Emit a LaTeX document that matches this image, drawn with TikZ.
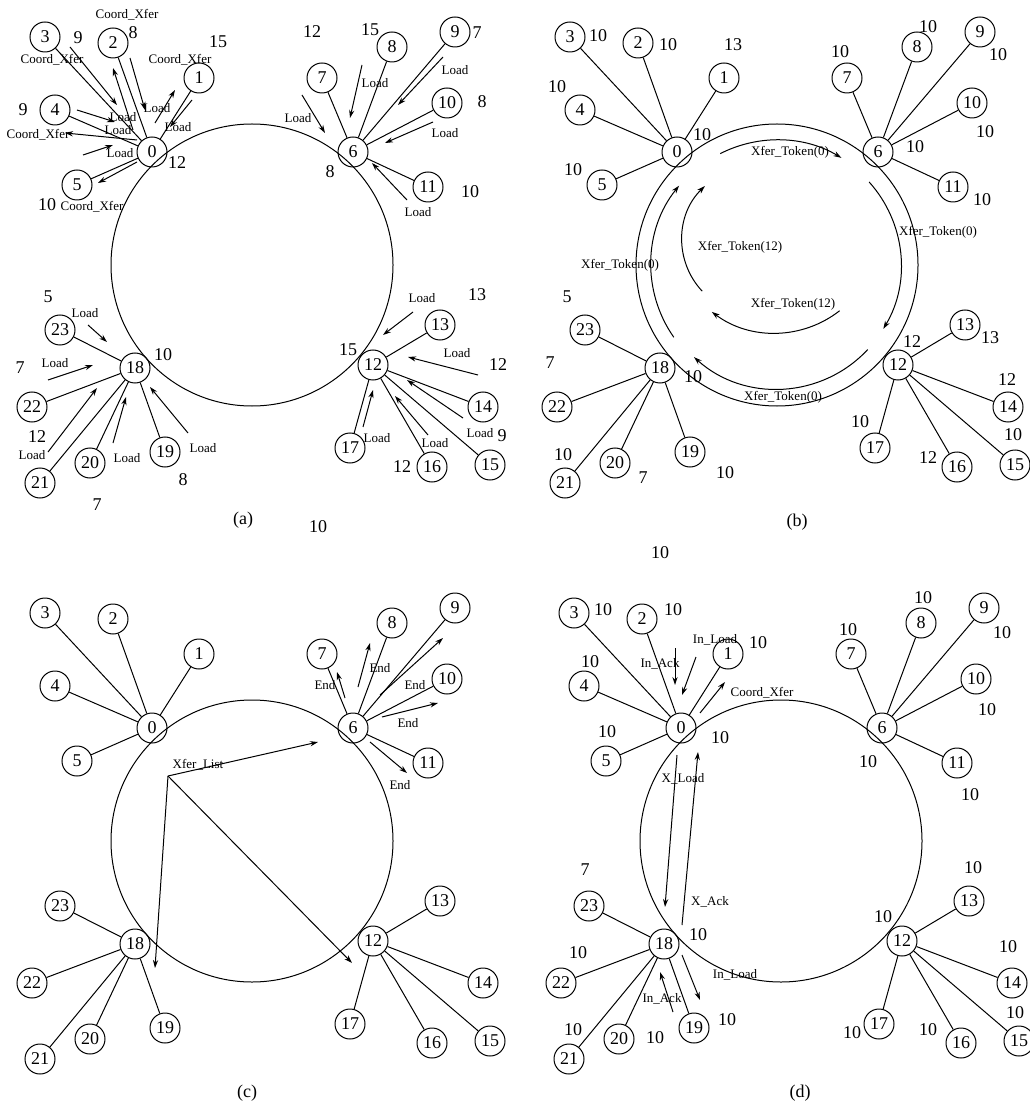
\documentclass[tikz,border=0pt]{standalone}
\usepackage{fontspec}
\setmainfont{Liberation Serif}
\usetikzlibrary{arrows.meta}
\newcommand\netbase{%
  \node[ringc] (ring) at (252,265) {};
  \foreach \n/\px/\py in {0/152/152,1/199/78,2/113/43,3/45/37,4/55/110,5/77/185,6/353/152,7/322/78,8/392/47,9/455/32,10/447/103,11/428/187,12/373/365,13/440/325,14/483/407,15/490/465,16/432/467,17/350/448,18/135/368,19/165/452,20/90/463,21/40/483,22/32/407,23/60/330}
    {\node[nd] (\n) at (\px,\py) {\n};}
  \foreach \h/\c in {0/1,0/2,0/3,0/4,0/5,6/7,6/8,6/9,6/10,6/11,12/13,12/14,12/15,12/16,12/17,18/19,18/20,18/21,18/22,18/23}
    {\draw[lnk] (\h) -- (\c);}
}
\newcommand\nums[1]{\foreach \t/\px/\py [count=\i] in {#1} {\node[num] (v\i) at (\px,\py) {\t};}}
\newcommand\labs[1]{\foreach \t/\px/\py [count=\i] in {#1} {\node[lab] (t\i) at (\px,\py) {\t};}}
\newcommand\arrs[1]{\foreach \ax/\ay/\bx/\by in {#1} {\draw[arr] (\ax,\ay) -- (\bx,\by);}}
\begin{document}
\begin{tikzpicture}[x=0.5pt,y=-0.5pt,
  nd/.style={draw,circle,minimum size=15pt,inner sep=0pt,font=\fontsize{9}{9}\selectfont,line width=0.5pt},
  ringc/.style={draw,circle,minimum size=141pt,inner sep=0pt,line width=0.5pt},
  num/.style={inner sep=0pt,font=\fontsize{9}{9}\selectfont},
  lab/.style={inner sep=0pt,font=\fontsize{6.5}{6.5}\selectfont},
  arr/.style={-{Stealth[length=4pt,width=2.6pt]},line width=0.5pt},
  lnk/.style={line width=0.5pt}]
\useasboundingbox[fill=white] (0,0) rectangle (1029,1106);

% ---------------- (a)
\begin{scope}[name prefix=a-]
\netbase
\nums{9/78/38,8/133/33,15/218/42,9/23/110,12/177/163,10/47/205,12/312/32,15/370/30,7/477/33,8/482/102,8/330/172,10/470/192,5/48/297,7/20/368,10/163/355,12/37/437,8/183/480,7/97/505,13/477/295,15/348/350,12/498/365,9/502/436,12/402/467,10/318/527}
\labs{Coord\_Xfer/127/15,Coord\_Xfer/52/60,Coord\_Xfer/180/60,Coord\_Xfer/38/135,Coord\_Xfer/92/207,
 Load/123/117,Load/118/130,Load/157/108,Load/178/127,Load/120/153,Load/298/118,Load/375/83,Load/455/70,Load/445/133,Load/418/212,
 Load/85/313,Load/55/363,Load/32/455,Load/127/458,Load/203/448,Load/422/298,Load/457/353,Load/480/433,Load/377/438,Load/435/443}
\arrs{70/47/117/105,130/58/145/110,133/130/113/68,155/123/175/90,192/100/170/127,77/110/115/122,137/140/65/133,83/155/113/145,137/162/98/183,
 302/95/325/133,362/65/350/118,443/57/398/105,433/122/385/143,407/200/372/163,
 88/325/107/342,48/380/93/365,48/452/97/388,113/443/126/397,188/433/150/387,
 413/312/383/335,478/375/408/357,463/418/407/380,363/427/373/390,428/435/395/396}
\node[num] (cap) at (243,520) {(a)};
\end{scope}

% ---------------- (b)
\begin{scope}[shift={(525,0)},name prefix=b-]
\netbase
\nums{10/73/36,10/143/45,13/208/45,10/32/87,10/177/135,10/48/170,10/315/52,10/403/27,10/473/55,10/460/132,10/390/147,10/457/200,5/42/297,7/25/363,10/168/377,12/387/342,13/465/338,12/482/380,10/38/455,7/118/478,10/200/473,10/335/422,12/403/458,10/488/435,10/135/553}
\labs{Xfer\_Token(0)/265/152,Xfer\_Token(0)/413/232,Xfer\_Token(0)/258/397,Xfer\_Token(0)/95/265,Xfer\_Token(12)/215/247,Xfer\_Token(12)/268/304}
\draw[arr] (ring.center) ++(-117:125) arc[start angle=-117,end angle=-59,radius=125];
\draw[arr] (ring.center) ++(-42:124) arc[start angle=-42,end angle=31,radius=124];
\draw[arr] (ring.center) ++(43:124) arc[start angle=43,end angle=132,radius=124];
\draw[arr] (ring.center) ++(145:126) arc[start angle=145,end angle=219,radius=126];
\draw[arr] (232,240) ++(137:75) arc[start angle=137,end angle=226,radius=75];
\draw[arr] (250,228) ++(52:105) arc[start angle=52,end angle=127,radius=105];
\node[num] (cap) at (272,522) {(b)};
\end{scope}

% ---------------- (c)
\begin{scope}[shift={(0,576)},name prefix=c-]
\netbase
\coordinate (src) at (168,200);
\coordinate (e6) at (318,166);
\coordinate (e18) at (155,392);
\coordinate (e12) at (352,387);
\draw[arr] (src) -- (e6);
\draw[arr] (src) -- (e18);
\draw[arr] (src) -- (e12);
\labs{Xfer\_List/198/189,End/325/109,End/380/92,End/415/109,End/408/147,End/400/209}
\arrs{345/122/337/96,358/111/370/67,380/119/443/62,382/141/438/127,370/166/407/197}
\node[num] (cap) at (247,517) {(c)};
\end{scope}

% ---------------- (d)
\begin{scope}[shift={(529,576)},name prefix=d-]
\netbase
\nums{10/74/34,10/144/34,10/229/67,10/61/86,10/78/156,10/191/162,10/319/54,10/394/22,10/473/57,10/458/134,10/339/186,10/441/219,10/444/292,10/354/341,10/479/371,10/486/437,10/399/454,10/323/457,7/56/294,10/169/359,10/49/377,10/44/454,10/126/462,10/198/444}
\labs{X\_Load/154/203,X\_Ack/181/326,In\_Load/186/64,In\_Ack/131/88,Coord\_Xfer/233/117,In\_Load/206/399,In\_Ack/133/423}
\arrs{148/179/136/331,153/349/169/176,167/81/153/119,146/72/146/109,171/137/196/106,153/379/171/424,144/436/131/396}
\node[num] (cap) at (271,517) {(d)};
\end{scope}
\end{tikzpicture}
\end{document}
